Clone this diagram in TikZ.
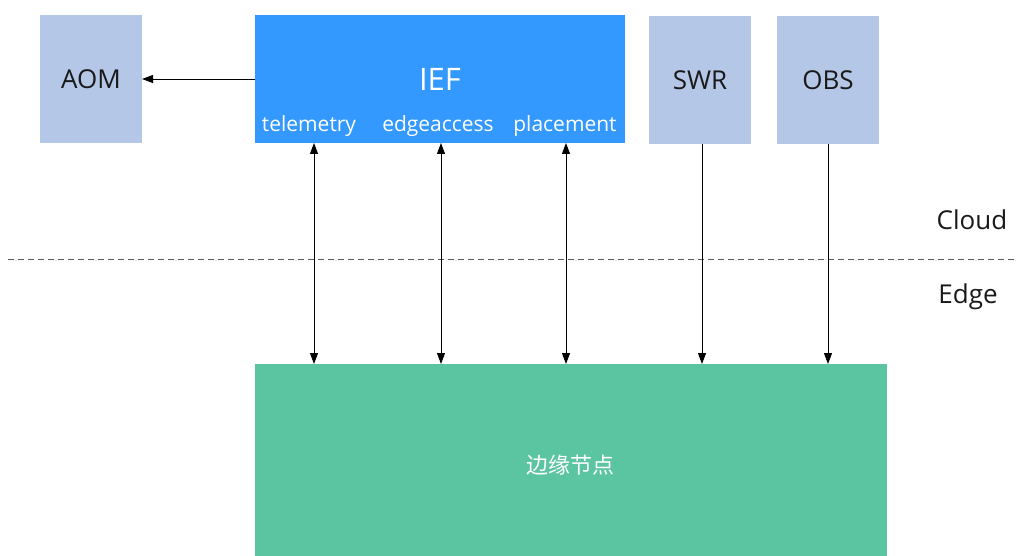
\documentclass[tikz,border=0pt]{standalone}
\usepackage{fontspec}
\setmainfont{Open Sans}
\newfontfamily\cjk{Noto Sans CJK SC}
\usetikzlibrary{arrows.meta}
\definecolor{svc}{HTML}{B4C7E7}
\definecolor{ief}{HTML}{3399FF}
\definecolor{edgegreen}{HTML}{5BC4A0}
\tikzset{
  svcbox/.style={fill=svc, draw=none, inner sep=0pt},
  conn/.style={draw=black, line width=0.9pt, -{Triangle[length=11pt,width=8pt]}},
  biconn/.style={draw=black, line width=0.9pt, {Triangle[length=11pt,width=8pt]}-{Triangle[length=11pt,width=8pt]}},
  lbl/.style={font=\fontsize{26}{30}\selectfont, text=black!90},
  sublbl/.style={font=\fontsize{21}{25}\selectfont, text=white, anchor=base},
}
\begin{document}
\begin{tikzpicture}[x=1pt,y=-1pt]
\useasboundingbox (0,0) rectangle (1018,556);
% boxes
\fill[svc] (40,15) rectangle (142,143);
\node[lbl] (aom) at (91,79) {AOM};
\coordinate (aomR) at (142,79);
\fill[ief] (255,15) rectangle (625,143);
\node[font=\fontsize{31}{35}\selectfont, text=white] (ief) at (440,79) {IEF};
\coordinate (iefL) at (255,79);
\node[sublbl] (tel) at (309,132) {telemetry};
\node[sublbl] (ea) at (438,132) {edgeaccess};
\node[sublbl] (pl) at (565,132) {placement};
\fill[svc] (649,16) rectangle (751,144);
\node[lbl] (swr) at (700,80) {SWR};
\fill[svc] (777,16) rectangle (879,144);
\node[lbl] (obs) at (828,80) {OBS};
\fill[edgegreen] (255,364) rectangle (887,556);
\node[font=\cjk\fontsize{22}{26}\selectfont, text=white] (node) at (570,465) {边缘节点};
% dashed line
\coordinate (dl) at (8,259);
\coordinate (dr) at (1018,259);
\draw[gray!70!black, line width=0.8pt, dash pattern=on 6pt off 4pt] (dl) -- (dr);
\node[lbl] (cloud) at (972,220) {Cloud};
\node[lbl] (edge) at (968,297) {Edge};
% connectors
\coordinate (t1) at (314,143); \coordinate (t2) at (314,364);
\coordinate (e1) at (441,143); \coordinate (e2) at (441,364);
\coordinate (p1) at (566,143); \coordinate (p2) at (566,364);
\coordinate (s1) at (702,144); \coordinate (s2) at (702,364);
\coordinate (o1) at (828,144); \coordinate (o2) at (828,364);
\draw[conn] (iefL) -- (aomR);
\draw[biconn] (t1) -- (t2);
\draw[biconn] (e1) -- (e2);
\draw[biconn] (p1) -- (p2);
\draw[conn] (s1) -- (s2);
\draw[conn] (o1) -- (o2);
\end{tikzpicture}
\end{document}
